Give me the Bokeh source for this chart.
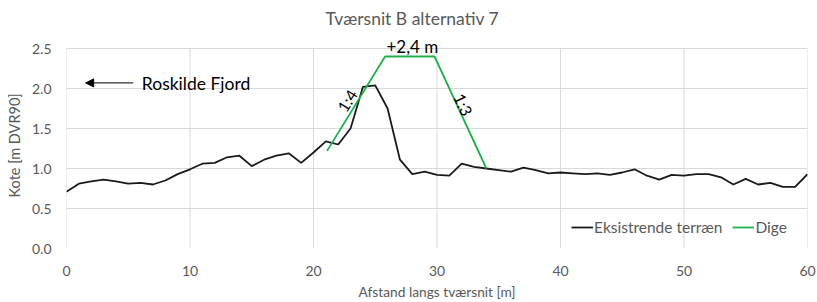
from bokeh.plotting import figure
from bokeh.models import Label, Arrow, NormalHead, Legend, LegendItem, PrintfTickFormatter, FixedTicker, Range1d, Title
from bokeh.embed import file_html
from bokeh.resources import INLINE
import math

# ---- data ----
terrain_x = list(range(0, 61))
terrain_y = [0.71, 0.81, 0.84, 0.86, 0.84, 0.81, 0.82, 0.80, 0.85, 0.93,
             0.99, 1.06, 1.07, 1.14, 1.16, 1.03, 1.11, 1.16, 1.19, 1.07,
             1.20, 1.34, 1.30, 1.50, 2.02, 2.04, 1.75, 1.11, 0.93, 0.96,
             0.92, 0.91, 1.06, 1.02, 1.00, 0.98, 0.96, 1.01, 0.98, 0.94,
             0.95, 0.94, 0.93, 0.94, 0.92, 0.95, 0.99, 0.91, 0.86, 0.92,
             0.91, 0.93, 0.93, 0.89, 0.80, 0.87, 0.80, 0.82, 0.77, 0.77,
             0.93]
dike_x = [21.1, 25.8, 29.8, 34.0]
dike_y = [1.22, 2.4, 2.4, 1.0]
x_ticks = [0, 10, 20, 30, 40, 50, 60]
y_ticks = [0.0, 0.5, 1.0, 1.5, 2.0, 2.5]

FONT = "Lato"
GREY = "#595959"
GRID = "#d9d9d9"

# the frame is extended above 2.5 so that the title and the crest label can sit in it
p = figure(width=817, height=302, output_backend="svg", toolbar_location=None,
           x_range=Range1d(x_ticks[0], x_ticks[-1]), y_range=Range1d(y_ticks[0], 3.1),
           min_border_left=64, min_border_right=10, min_border_top=0, min_border_bottom=54)
p.title.text = ""
p.outline_line_color = None

for ax in (p.xaxis[0], p.yaxis[0]):
    ax.axis_line_color = None
    ax.major_tick_line_color = None
    ax.minor_tick_line_color = None
    ax.major_tick_out = 0
    ax.major_tick_in = 0
    ax.minor_tick_out = 0
    ax.minor_tick_in = 0
    ax.major_label_text_font = FONT
    ax.major_label_text_font_size = "14px"
    ax.major_label_text_color = GREY
    ax.axis_label_text_font = FONT
    ax.axis_label_text_font_style = "normal"
    ax.axis_label_text_color = GREY

p.xaxis.ticker = FixedTicker(ticks=x_ticks)
p.yaxis.ticker = FixedTicker(ticks=y_ticks)
p.yaxis.formatter = PrintfTickFormatter(format="%.1f")
p.xaxis.axis_label = "Afstand langs tværsnit [m]"
p.xaxis.axis_label_text_font_size = "13.75px"
p.xaxis.major_label_standoff = 17
p.xaxis.axis_label_standoff = 4
p.yaxis.major_label_standoff = 15

# y-axis title, placed relative to the bottom of the value range
p.add_layout(Title(text="Kote [m DVR90]", align="left", offset=51, vertical_align="middle",
                   text_font=FONT, text_font_size="14.5px", text_font_style="normal",
                   text_color=GREY, standoff=9), "left")

p.xgrid.grid_line_color = None
p.ygrid.grid_line_color = GRID
p.ygrid.grid_line_width = 1
# vertical grid lines, limited to the value range of the y axis
p.segment(x0=x_ticks, y0=[y_ticks[0]] * len(x_ticks), x1=x_ticks, y1=[y_ticks[-1]] * len(x_ticks),
          line_color=GRID, line_width=1)

r1 = p.line(terrain_x, terrain_y, line_color="#1a1a1a", line_width=1.8)
r2 = p.line(dike_x, dike_y, line_color="#20b04b", line_width=1.8)

legend = Legend(items=[LegendItem(label="Eksistrende terræn", renderers=[r1]),
                       LegendItem(label="Dige", renderers=[r2])],
                orientation="horizontal", location=(505, 11),
                background_fill_alpha=0, border_line_color=None,
                label_text_font=FONT, label_text_font_size="15.5px", label_text_color=GREY,
                glyph_width=22, label_standoff=1, spacing=10, margin=0, padding=0)
p.add_layout(legend, "center")

# titles and annotations
p.add_layout(Label(x=28.0, y=2.875, text="Tværsnit B alternativ 7", text_align="center",
                   text_baseline="middle", text_font=FONT, text_font_size="17.5px", text_color=GREY))
p.add_layout(Label(x=28.0, y=2.53, text="+2,4 m", text_align="center", text_baseline="middle",
                   text_font=FONT, text_font_size="17px", text_color="black"))
p.add_layout(Label(x=22.7, y=1.85, text="1:4", text_align="center", text_baseline="middle",
                   angle=math.radians(58), text_font=FONT, text_font_size="16px", text_color="black"))
p.add_layout(Label(x=32.15, y=1.8, text="1:3", text_align="center", text_baseline="middle",
                   angle=math.radians(-65), text_font=FONT, text_font_size="16px", text_color="black"))
p.add_layout(Label(x=6.1, y=2.06, text="Roskilde Fjord", text_align="left", text_baseline="middle",
                   text_font=FONT, text_font_size="17.5px", text_color="black"))
p.add_layout(Arrow(end=NormalHead(size=8, fill_color="black", line_color="black"),
                   x_start=5.4, y_start=2.07, x_end=1.55, y_end=2.07,
                   line_color="black", line_width=1))

open("out.html", "w").write(file_html(p, INLINE))
